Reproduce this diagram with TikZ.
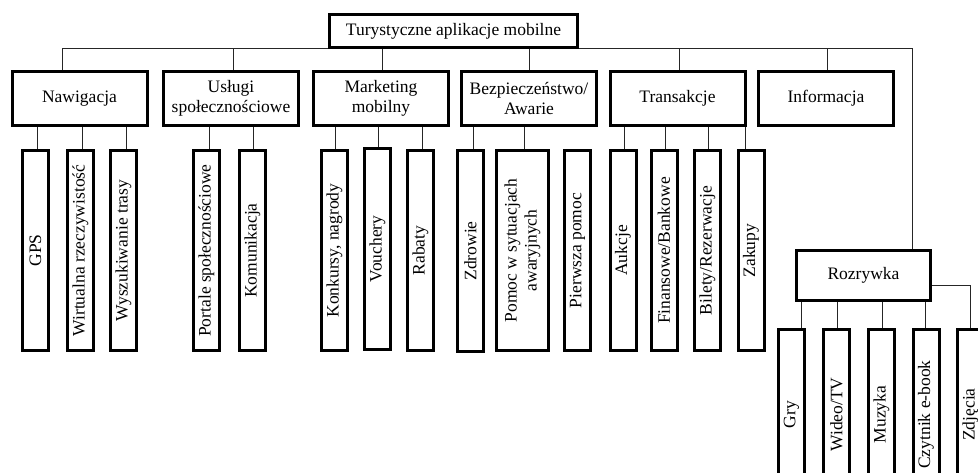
\documentclass[tikz,border=0pt]{standalone}
\usepackage{fontspec}
\setmainfont{Liberation Serif}
\begin{document}
\begin{tikzpicture}[x=1pt,y=-1pt,
  box/.style={draw=black,line width=3pt,fill=white,inner sep=0pt,align=center,
    font=\fontsize{17.5}{20}\selectfont},
  topbox/.style={box,minimum width=248pt,minimum height=33pt},
  catbox/.style={box,minimum width=135pt,minimum height=54pt},
  rozbox/.style={box,minimum width=134pt,minimum height=50pt},
  leafbox/.style={box,minimum width=26pt,minimum height=200pt},
  rleafbox/.style={box,minimum width=26pt,minimum height=170pt},
  conn/.style={draw=black!85,line width=1pt}]
\useasboundingbox (0,0) rectangle (978,473);
\clip (0,0) rectangle (978,473);
\fill[white] (0,0) rectangle (978,473);

% nodes
\node[topbox] (root) at (453.5,31) {Turystyczne aplikacje mobilne};

\node[catbox] (nav) at (79.5,98.5) {Nawigacja};
\node[catbox] (usl) at (231,98.5) {Usługi\\społecznościowe};
\node[catbox] (mar) at (381,98.5) {Marketing\\mobilny};
\node[catbox] (bez) at (529,98.5) {Bezpieczeństwo/\\Awarie};
\node[catbox] (tra) at (677.5,98.5) {Transakcje};
\node[catbox] (inf) at (826,98.5) {Informacja};
\node[rozbox] (roz) at (863.5,275.5) {Rozrywka};

\node[leafbox] (gps) at (35.5,250.5) {\rotatebox{90}{GPS}};
\node[leafbox] (wir) at (80.5,250.5) {\rotatebox{90}{Wirtualna rzeczywistość}};
\node[leafbox] (wys) at (123.5,250.5) {\rotatebox{90}{Wyszukiwanie trasy}};
\node[leafbox] (por) at (206.5,250.5) {\rotatebox{90}{Portale społecznościowe}};
\node[leafbox] (kom) at (252.5,250.5) {\rotatebox{90}{Komunikacja}};
\node[leafbox] (kon) at (334.5,250.5) {\rotatebox{90}{Konkursy, nagrody}};
\node[leafbox] (vou) at (377.5,249) {\rotatebox{90}{Vouchery}};
\node[leafbox] (rab) at (420.5,250.5) {\rotatebox{90}{Rabaty}};
\node[leafbox] (zdr) at (470.5,251) {\rotatebox{90}{Zdrowie}};
\node[leafbox,minimum width=52pt] (pom) at (522.5,250.5) {\rotatebox{90}{\begin{tabular}{@{}c@{}}Pomoc w sytuacjach\\awaryjnych\end{tabular}}};
\node[leafbox] (pie) at (577.5,250.5) {\rotatebox{90}{Pierwsza pomoc}};
\node[leafbox] (auk) at (623,250.5) {\rotatebox{90}{Aukcje}};
\node[leafbox] (fin) at (664,250.5) {\rotatebox{90}{Finansowe/Bankowe}};
\node[leafbox] (bil) at (707.5,250.5) {\rotatebox{90}{Bilety/Rezerwacje}};
\node[leafbox] (zak) at (751,250.5) {\rotatebox{90}{Zakupy}};

\node[rleafbox] (gry) at (791.5,414.5) {\rotatebox{90}{Gry}};
\node[rleafbox] (wid) at (836.5,414.5) {\rotatebox{90}{Wideo/TV}};
\node[rleafbox] (muz) at (881.5,414.5) {\rotatebox{90}{Muzyka}};
\node[rleafbox] (czy) at (926,414.5) {\rotatebox{90}{Czytnik e-book}};
\node[rleafbox] (zdj) at (970.5,414.5) {\rotatebox{90}{Zdjęcia}};

% connectors
\path[conn] (root.south) -| ([xshift=-17.5pt]nav.north);
\path[conn] (root.south) -| ([xshift=2pt]usl.north);
\path[conn] (root.south) -| ([xshift=1pt]mar.north);
\path[conn] (root.south) -| (bez.north);
\path[conn] (root.south) -| ([xshift=1.5pt]tra.north);
\path[conn] (root.south) -| ([xshift=1pt]inf.north);
\path[conn] (root.south) -| ([xshift=48.5pt]roz.north);

\foreach \c/\p/\s in {gps/nav/1.5, wir/nav/1.5, wys/nav/2.5, por/usl/2.5, kom/usl/0.5,
  kon/mar/0.5, vou/mar/0.5, rab/mar/1.5, zdr/bez/2.5, pom/bez/1.5,
  auk/tra/1, fin/tra/1, bil/tra/0.5, zak/tra/-6}
  \path[conn] ([xshift=\s pt]\c.north) -- ([xshift=\s pt]\c.north |- \p.south);

\foreach \c/\s in {gry/9.5, wid/0.5, muz/0.5, czy/-1}
  \path[conn] ([xshift=\s pt]\c.north) -- ([xshift=\s pt]\c.north |- roz.south);
\path[conn] ([yshift=-10.5pt]roz.east) -| (zdj.north);

% redraw boxes that the bus lines cross, on top
\node[topbox] at (root) {Turystyczne aplikacje mobilne};
\node[rozbox] at (roz) {Rozrywka};
\end{tikzpicture}
\end{document}
